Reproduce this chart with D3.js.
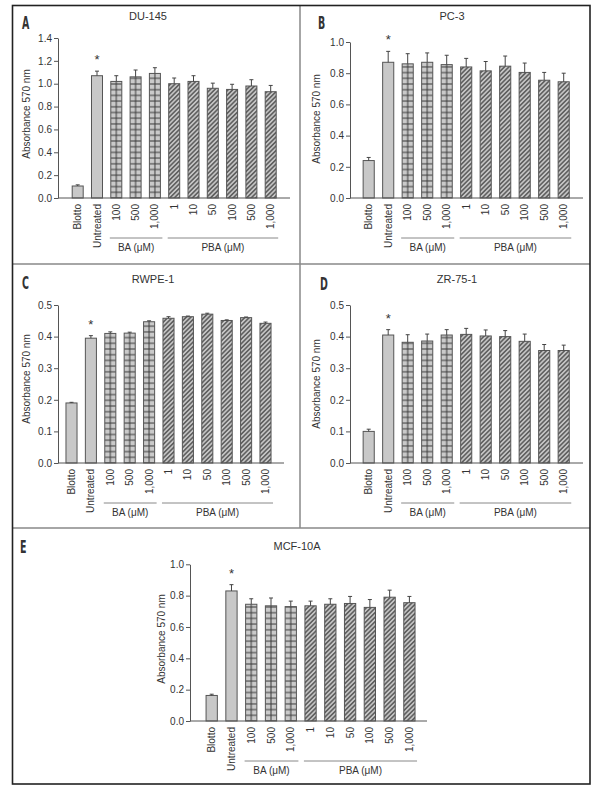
<!DOCTYPE html>
<html><head><meta charset="utf-8">
<script src="https://cdn.jsdelivr.net/npm/d3@7"></script>
<style>
html,body{margin:0;padding:0;background:#fff;}
svg{display:block;}
text{font-family:"Liberation Sans",Arial,sans-serif;fill:#333;}
</style></head>
<body>
<svg id="chart" width="605" height="792"></svg>
<script>
// ---------- data ----------
const categories = ["Blotto","Untreated","100","500","1,000","1","10","50","100","500","1,000"];
const treatment = ["none","none","BA","BA","BA","PBA","PBA","PBA","PBA","PBA","PBA"];
const groupLabels = ["BA (\u03bcM)","PBA (\u03bcM)"];

const du145Values  = [0.105,1.07,1.02,1.06,1.09,1.00,1.02,0.96,0.95,0.98,0.93];
const du145Errors  = [0.010,0.040,0.050,0.060,0.050,0.050,0.050,0.045,0.045,0.055,0.055];
const pc3Values    = [0.24,0.87,0.86,0.87,0.855,0.84,0.815,0.845,0.805,0.755,0.745];
const pc3Errors    = [0.020,0.070,0.065,0.060,0.060,0.055,0.060,0.065,0.060,0.050,0.055];
const rwpe1Values  = [0.19,0.395,0.41,0.411,0.447,0.458,0.463,0.471,0.451,0.46,0.442];
const rwpe1Errors  = [0.002,0.008,0.005,0.003,0.003,0.005,0.002,0.003,0.002,0.002,0.004];
const zr751Values  = [0.10,0.405,0.382,0.386,0.405,0.407,0.402,0.40,0.385,0.356,0.356];
const zr751Errors  = [0.007,0.017,0.024,0.022,0.017,0.019,0.019,0.019,0.023,0.019,0.017];
const mcf10aValues = [0.163,0.83,0.745,0.735,0.73,0.735,0.745,0.75,0.725,0.79,0.755];
const mcf10aErrors = [0.008,0.040,0.035,0.050,0.035,0.030,0.035,0.045,0.050,0.045,0.040];

const ticksA = [0,0.2,0.4,0.6,0.8,1.0,1.2,1.4];
const ticksB = [0,0.2,0.4,0.6,0.8,1.0];
const ticksC = [0,0.1,0.2,0.3,0.4,0.5];
const ticksD = [0,0.1,0.2,0.3,0.4,0.5];
const ticksE = [0,0.2,0.4,0.6,0.8,1.0];

const panelLetters = ["A","B","C","D","E"];
const panelTitles = ["DU-145","PC-3","RWPE-1","ZR-75-1","MCF-10A"];
const yTitle = "Absorbance 570 nm";
const significant = 1; // index of starred bar

// ---------- layout (positions only) ----------
const layouts = [
  {x0:58, x1:290, first:77.7, step:19.3, yB:198, yT:38, lx:22, ly:29, tx:148, ty:19.5, ylx:26, yly:114},
  {x0:350, x1:583, first:368.7, step:19.5, yB:198, yT:42, lx:318, ly:29, tx:452, ty:20, ylx:316, yly:119},
  {x0:58, x1:284, first:71.5, step:19.4, yB:463, yT:305, lx:22, ly:289, tx:153, ty:283, ylx:26, yly:379},
  {x0:350, x1:583, first:368.7, step:19.5, yB:463, yT:305, lx:320, ly:290, tx:457, ty:283, ylx:316, yly:384},
  {x0:190, x1:427, first:211.7, step:19.77, yB:721, yT:564.3, lx:20, ly:553, tx:297, ty:550, ylx:161, yly:639}
];
const panelValues = [du145Values,pc3Values,rwpe1Values,zr751Values,mcf10aValues];
const panelErrors = [du145Errors,pc3Errors,rwpe1Errors,zr751Errors,mcf10aErrors];
const panelTicks = [ticksA,ticksB,ticksC,ticksD,ticksE];

const svg = d3.select("#chart");
const defs = svg.append("defs");
const barFill = "#c8c8c8", barStroke = "#555", lineCol = "#444";

// hatch pattern (PBA)
const hatch = defs.append("pattern").attr("id","hatch").attr("patternUnits","userSpaceOnUse")
  .attr("width",3.2).attr("height",3.2).attr("patternTransform","rotate(45)");
hatch.append("rect").attr("width",3.2).attr("height",3.2).attr("fill","#c4c4c4");
hatch.append("line").attr("x1",0.8).attr("x2",0.8).attr("y1",0).attr("y2",3.2)
  .attr("stroke","#333").attr("stroke-width",1.1);

// frame
const frame = svg.append("g");
frame.append("line").attr("x1",12.5).attr("x2",590).attr("y1",264).attr("y2",264).attr("stroke","#888").attr("stroke-width",1.5);
frame.append("line").attr("x1",12.5).attr("x2",590).attr("y1",528).attr("y2",528).attr("stroke","#888").attr("stroke-width",1.5);
frame.append("line").attr("x1",300).attr("x2",300).attr("y1",5.5).attr("y2",528).attr("stroke","#888").attr("stroke-width",1.5);
frame.append("rect").attr("x",12.5).attr("y",5.5).attr("width",577.5).attr("height",778.5)
  .attr("fill","none").attr("stroke","#222").attr("stroke-width",1.6);

layouts.forEach((L,p) => {
  const values = panelValues[p], errors = panelErrors[p], ticks = panelTicks[p];
  const g = svg.append("g");
  const idx = categories.map((c,i)=>i);
  const x = d3.scaleBand().domain(idx)
    .range([L.first - L.step/2, L.first + L.step*(categories.length-1) + L.step/2])
    .paddingInner(0.43).paddingOuter(0.215);
  const y = d3.scaleLinear().domain([0, ticks[ticks.length-1]]).range([L.yB, L.yT]);
  const bw = x.bandwidth();
  const cx = i => x(i) + bw/2;

  // grid pattern (BA) aligned to bar centers
  const gid = "grid"+p, gh = 5.7;
  const gp = defs.append("pattern").attr("id",gid).attr("patternUnits","userSpaceOnUse")
    .attr("x", cx(0) - L.step/2).attr("y", L.yB - gh/2).attr("width", x.step()).attr("height", gh);
  gp.append("rect").attr("width", x.step()).attr("height", gh).attr("fill","#cacaca");
  gp.append("line").attr("x1", x.step()/2).attr("x2", x.step()/2).attr("y1",0).attr("y2",gh).attr("stroke","#3a3a3a").attr("stroke-width",1);
  gp.append("line").attr("x1",0).attr("x2",x.step()).attr("y1",gh/2).attr("y2",gh/2).attr("stroke","#3a3a3a").attr("stroke-width",1);

  // bars
  g.selectAll("rect.bar").data(idx).join("rect").attr("class","bar")
    .attr("x", i => x(i)).attr("width", bw)
    .attr("y", i => y(values[i])).attr("height", i => y(0) - y(values[i]))
    .attr("fill", i => treatment[i]==="none" ? barFill : treatment[i]==="BA" ? `url(#${gid})` : "url(#hatch)")
    .attr("stroke", barStroke).attr("stroke-width",1);

  // error bars
  const eb = g.selectAll("g.err").data(idx).join("g").attr("class","err");
  eb.append("line").attr("x1", cx).attr("x2", cx)
    .attr("y1", i => y(values[i])).attr("y2", i => y(values[i]+errors[i]))
    .attr("stroke", lineCol).attr("stroke-width",1);
  eb.append("line").attr("x1", i => cx(i)-2).attr("x2", i => cx(i)+2)
    .attr("y1", i => y(values[i]+errors[i])).attr("y2", i => y(values[i]+errors[i]))
    .attr("stroke", lineCol).attr("stroke-width",1);

  // asterisk
  g.append("text").attr("x", cx(significant)).attr("y", y(values[significant]+errors[significant]) - 7)
    .attr("text-anchor","middle").attr("font-size",13).text("*");

  // x axis line
  g.append("line").attr("x1", L.x0).attr("x2", L.x1).attr("y1", L.yB).attr("y2", L.yB)
    .attr("stroke","#555").attr("stroke-width",1);

  // y axis
  const ya = g.append("g").attr("transform",`translate(${L.x0},0)`)
    .call(d3.axisLeft(y).tickValues(ticks).tickFormat(d3.format(".1f")).tickSize(4).tickPadding(2).tickSizeOuter(0));
  ya.select(".domain").attr("stroke","#555");
  ya.selectAll(".tick line").attr("stroke","#555");
  ya.selectAll(".tick text").attr("font-size",10).attr("fill","#333").attr("font-family","Liberation Sans, Arial, sans-serif");

  // category labels
  g.selectAll("text.cat").data(idx).join("text").attr("class","cat")
    .attr("transform", i => `translate(${cx(i)},${L.yB+6}) rotate(-90)`)
    .attr("text-anchor","end").attr("dy","0.35em").attr("font-size",10).text(i => categories[i]);

  // group lines and labels
  ["BA","PBA"].forEach((grp,k) => {
    const members = idx.filter(i => treatment[i]===grp);
    const xa = x(members[0]) - 1, xb = x(members[members.length-1]) + bw + 2;
    g.append("line").attr("x1", xa).attr("x2", xb).attr("y1", L.yB+40).attr("y2", L.yB+40)
      .attr("stroke","#888").attr("stroke-width",1);
    g.append("text").attr("x",(xa+xb)/2).attr("y", L.yB+53).attr("text-anchor","middle")
      .attr("font-size",10).text(groupLabels[k]);
  });

  // y title
  g.append("text").attr("transform",`translate(${L.ylx+3.5},${L.yly}) rotate(-90)`)
    .attr("text-anchor","middle").attr("font-size",10).text(yTitle);

  // panel title
  g.append("text").attr("x", L.tx).attr("y", L.ty).attr("text-anchor","middle")
    .attr("font-size",11).text(panelTitles[p]);

  // panel letter
  g.append("text").attr("transform",`translate(${L.lx},${L.ly}) scale(0.62,1)`)
    .attr("font-size",17).attr("font-weight","bold").attr("fill","#000")
    .style("font-family","'Liberation Sans Narrow','DejaVu Sans Condensed',Arial,sans-serif")
    .text(panelLetters[p]);
});
</script>
</body></html>
